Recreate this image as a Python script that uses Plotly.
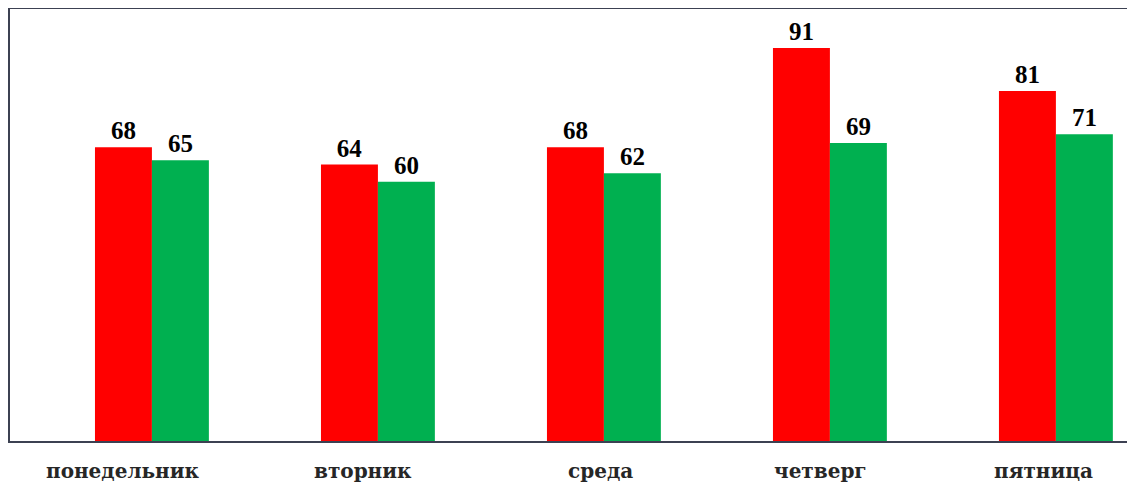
import plotly.graph_objects as go

days = ["понедельник", "вторник", "среда", "четверг", "пятница"]
red_vals = [68, 64, 68, 91, 81]
green_vals = [65, 60, 62, 69, 71]

SERIF = "Liberation Serif, Times New Roman, serif"
WIDE_SERIF = "DejaVu Serif, serif"

# labels in the original sit a little left of their bar groups
label_shift = [-29, -15, -3, -9, -12]

fig = go.Figure()
fig.add_trace(go.Bar(
    x=days, y=red_vals, marker=dict(color="#ff0000", line=dict(width=0)),
    text=red_vals, textposition="outside", cliponaxis=False,
    textfont=dict(family=SERIF, size=25, color="black"),
    name="1",
))
fig.add_trace(go.Bar(
    x=days, y=green_vals, marker=dict(color="#00b050", line=dict(width=0)),
    text=green_vals, textposition="outside", cliponaxis=False,
    textfont=dict(family=SERIF, size=25, color="black"),
    name="2",
))

for d, dx in zip(days, label_shift):
    fig.add_annotation(
        x=d, y=0, xref="x", yref="y", text=f"<b>{d}</b>", showarrow=False,
        xshift=dx, yshift=-30, yanchor="middle",
        font=dict(family=WIDE_SERIF, size=20, color="#262626"),
    )

# page body has an 8px margin, so the figure is sized to fill the window from there
fig.update_layout(
    width=1127, height=478,
    margin=dict(l=2, r=0, t=1, b=45, autoexpand=False),
    paper_bgcolor="white", plot_bgcolor="white",
    barmode="group", bargap=0.496, bargroupgap=0,
    showlegend=False,
)
fig.update_traces(texttemplate="<b>%{text}</b>")
fig.update_xaxes(
    range=[-0.628, 4.35], automargin=False,
    showline=True, linecolor="#3c4152", linewidth=2, mirror=True,
    showgrid=False, showticklabels=False,
)
fig.update_yaxes(
    range=[0, 100], automargin=False, showline=True, linecolor="#3c4152", linewidth=2,
    showgrid=False, showticklabels=False, zeroline=False,
)

fig.write_html("out.html")
